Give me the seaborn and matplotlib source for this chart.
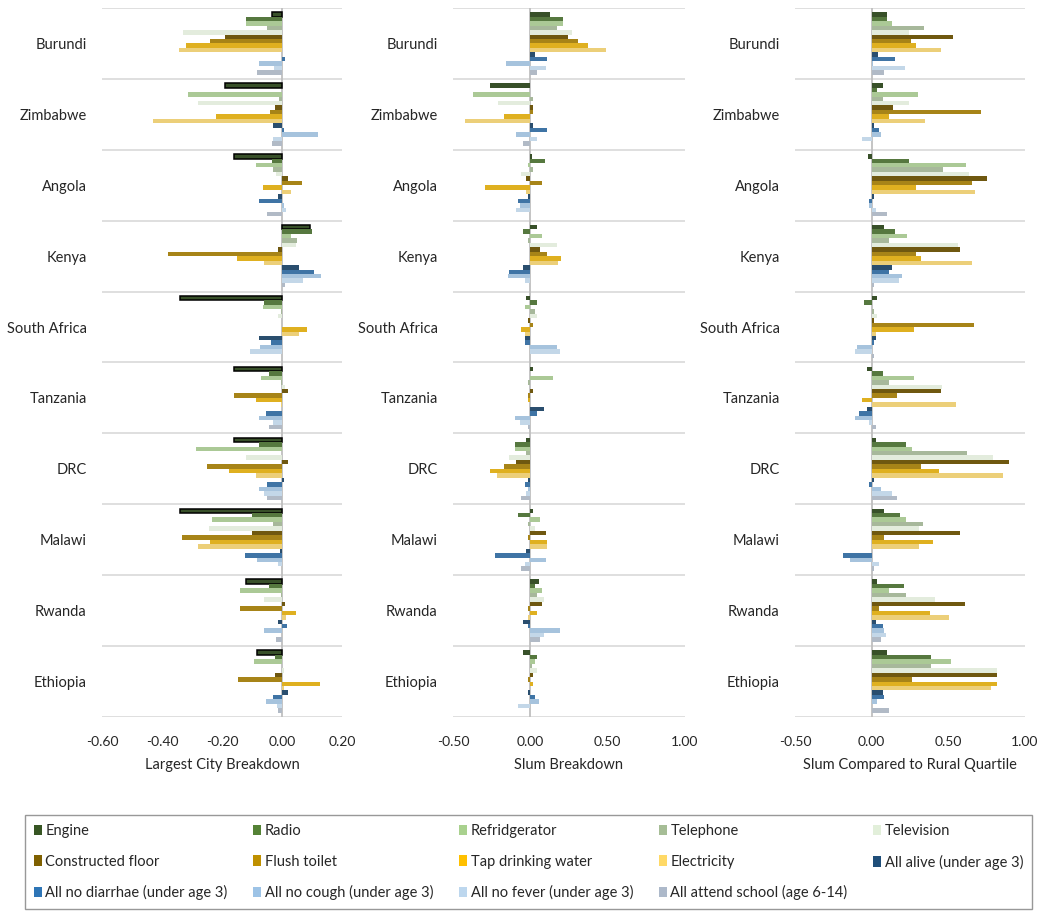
import numpy as np
import pandas as pd
import matplotlib
matplotlib.use("Agg")
import matplotlib.pyplot as plt
from matplotlib.patches import Patch
import seaborn as sns

countries = ["Burundi", "Zimbabwe", "Angola", "Kenya", "South Africa",
             "Tanzania", "DRC", "Malawi", "Rwanda", "Ethiopia"]

indicators = ["Engine", "Radio", "Refridgerator", "Telephone", "Television",
              "Constructed floor", "Flush toilet", "Tap drinking water", "Electricity",
              "All alive (under age 3)", "All no diarrhae (under age 3)",
              "All no cough (under age 3)", "All no fever (under age 3)",
              "All attend school (age 6-14)"]

colors = ["#375623", "#548235", "#A9D18E", "#A6BD96", "#E2EFDA",
          "#7F6000", "#BF9000", "#FFC000", "#FFD966",
          "#1F4E79", "#2E75B6", "#9DC3E6", "#BDD7EE", "#ADB9CA"]

# One row per country, one value per indicator (same order as `indicators`)
largest_city = [
    [-0.035, -0.12, -0.12, -0.05, -0.33, -0.19, -0.24, -0.32, -0.345, 0.0, 0.01, -0.077, -0.027, -0.085],
    [-0.19, 0.0, -0.315, -0.01, -0.28, -0.025, -0.04, -0.22, -0.43, -0.03, 0.005, 0.12, -0.03, -0.035],
    [-0.16, -0.035, -0.088, -0.03, -0.02, 0.02, 0.067, -0.065, 0.03, -0.012, -0.077, 0.005, 0.013, -0.05],
    [0.093, 0.1, 0.03, 0.05, 0.045, -0.012, -0.38, -0.15, -0.06, 0.055, 0.107, 0.13, 0.07, 0.01],
    [-0.34, -0.06, -0.065, -0.005, -0.015, 0.0, 0.0, 0.083, 0.058, -0.078, -0.037, -0.072, -0.108, 0.0],
    [-0.16, -0.043, -0.07, -0.005, 0.01, 0.02, -0.16, -0.088, -0.005, 0.0, -0.054, -0.077, -0.03, -0.043],
    [-0.16, -0.077, -0.287, 0.0, -0.12, 0.02, -0.25, -0.177, -0.088, 0.007, -0.05, -0.077, -0.06, -0.05],
    [-0.34, -0.1, -0.235, -0.03, -0.245, -0.1, -0.335, -0.24, -0.28, -0.008, -0.123, -0.083, -0.013, 0.0],
    [-0.12, -0.042, -0.14, -0.005, -0.06, 0.01, -0.14, 0.045, 0.013, -0.012, 0.015, -0.06, 0.0, -0.02],
    [-0.082, -0.025, -0.093, 0.0, 0.005, -0.025, -0.147, 0.125, 0.005, 0.02, -0.03, -0.052, -0.018, -0.013],
]

slum = [
    [0.13, 0.21, 0.21, 0.17, 0.27, 0.245, 0.31, 0.37, 0.49, 0.03, 0.11, -0.16, 0.1, 0.04],
    [-0.26, 0.0, -0.37, 0.02, -0.21, 0.015, 0.015, -0.17, -0.42, 0.015, 0.11, -0.095, 0.04, -0.05],
    [0.01, 0.097, -0.017, 0.015, -0.058, -0.03, 0.075, -0.29, -0.026, -0.015, -0.08, -0.07, -0.095, 0.0],
    [0.043, -0.05, 0.075, -0.017, 0.17, 0.065, 0.11, 0.2, 0.177, -0.047, -0.138, -0.147, -0.037, 0.0],
    [-0.026, 0.043, -0.037, 0.03, 0.04, -0.017, 0.02, -0.06, -0.037, -0.037, -0.037, 0.17, 0.19, 0.0],
    [0.015, 0.0, 0.145, -0.017, 0.0, 0.015, -0.017, -0.017, 0.0, 0.088, 0.04, -0.1, -0.07, -0.017],
    [-0.026, -0.1, -0.1, -0.026, -0.14, -0.093, -0.17, -0.26, -0.215, -0.017, -0.037, -0.017, -0.026, -0.06],
    [0.015, -0.08, 0.065, -0.017, 0.03, 0.1, -0.017, 0.11, 0.11, -0.026, -0.23, 0.1, -0.037, -0.06],
    [0.054, 0.03, 0.075, 0.04, 0.086, 0.075, -0.017, 0.043, -0.015, -0.047, -0.017, 0.19, 0.086, 0.065],
    [-0.047, 0.04, 0.03, 0.01, 0.04, 0.015, -0.017, 0.015, 0.0, -0.017, 0.03, 0.054, -0.08, 0.0],
]

slum_vs_rural = [
    [0.1, 0.1, 0.13, 0.34, 0.245, 0.53, 0.255, 0.29, 0.45, 0.04, 0.153, 0.01, 0.22, 0.083],
    [0.072, 0.037, 0.3, 0.072, 0.245, 0.14, 0.71, 0.11, 0.345, 0.015, 0.048, 0.06, -0.065, 0.0],
    [-0.022, 0.245, 0.617, 0.467, 0.637, 0.754, 0.653, 0.287, 0.675, 0.015, -0.017, -0.017, 0.026, 0.1],
    [0.083, 0.153, 0.23, 0.11, 0.56, 0.573, 0.29, 0.32, 0.654, 0.13, 0.115, 0.2, 0.176, 0.015],
    [0.037, -0.048, 0.005, 0.015, 0.037, 0.015, 0.665, 0.277, 0.026, 0.026, 0.015, -0.094, -0.11, 0.015],
    [-0.028, 0.072, 0.277, 0.11, 0.457, 0.45, 0.163, -0.065, 0.55, -0.028, -0.083, -0.11, -0.017, 0.026],
    [0.026, 0.222, 0.266, 0.62, 0.79, 0.893, 0.32, 0.436, 0.856, 0.015, -0.017, 0.06, 0.13, 0.163],
    [0.083, 0.185, 0.222, 0.333, 0.31, 0.573, 0.083, 0.403, 0.31, 0.0, -0.19, -0.14, 0.048, 0.015],
    [0.037, 0.21, 0.11, 0.222, 0.414, 0.608, 0.048, 0.38, 0.505, 0.026, 0.072, 0.083, 0.094, 0.06],
    [0.1, 0.39, 0.516, 0.39, 0.82, 0.82, 0.266, 0.82, 0.78, 0.072, 0.083, 0.037, 0.0, 0.11],
]

panel_titles = ["Largest City Breakdown", "Slum Breakdown", "Slum Compared to Rural Quartile"]
x_ticks = [[-0.6, -0.4, -0.2, 0.0, 0.2], [-0.5, 0.0, 0.5, 1.0], [-0.5, 0.0, 0.5, 1.0]]
x_limits = [(-0.6, 0.2), (-0.5, 1.0), (-0.5, 1.0)]


def to_long(rows):
    records = []
    for country, vals in zip(countries, rows):
        for ind, v in zip(indicators, vals):
            records.append({"country": country, "indicator": ind, "value": v})
    return pd.DataFrame.from_records(records)


sns.set_theme(style="white")
plt.rcParams["font.family"] = ["Lato", "DejaVu Sans"]

fig = plt.figure(figsize=(10.48, 9.11), dpi=100)
W, H = 1048.0, 911.0
top_px, bottom_px = 8.0, 717.0
axes_px = [(102, 240), (453, 232), (795, 230)]

for k, (rows, title) in enumerate(zip([largest_city, slum, slum_vs_rural], panel_titles)):
    left, width = axes_px[k]
    ax = fig.add_axes([left / W, 1 - bottom_px / H, width / W, (bottom_px - top_px) / H])
    df = to_long(rows)
    sns.barplot(data=df, x="value", y="country", hue="indicator",
                order=countries, hue_order=indicators, palette=colors,
                orient="h", width=0.88, linewidth=0, errorbar=None,
                legend=False, ax=ax, zorder=2)
    if k == 0:
        for bar in ax.containers[0]:
            bar.set_edgecolor("black")
            bar.set_linewidth(1.1)

    ax.set_xlim(*x_limits[k])
    ax.set_ylim(9.5, -0.5)
    ax.axvline(0, color="#BFBFBF", lw=1.3, zorder=1)
    ax.set_yticks(np.arange(-0.5, 10, 1), minor=True)
    ax.grid(axis="y", which="minor", color="#D9D9D9", lw=1.2)
    ax.grid(axis="x", visible=False)
    ax.grid(axis="y", which="major", visible=False)
    for s in ax.spines.values():
        s.set_visible(False)
    ax.set_xticks(x_ticks[k])
    ax.set_xticklabels([f"{t:.2f}" for t in x_ticks[k]], fontsize=10)
    ax.tick_params(axis="both", which="both", length=0)
    ax.tick_params(axis="x", pad=14)
    ax.tick_params(axis="y", pad=11, labelsize=10.5)
    ax.set_ylabel("")
    ax.set_xlabel(title, fontsize=10.5, labelpad=7)

# Legend: fill row by row across five columns
handles = [Patch(facecolor=c, edgecolor="none") for c in colors]
ncol, nrow = 5, 3
order = [r * ncol + c for c in range(ncol) for r in range(nrow) if r * ncol + c < len(indicators)]
leg = fig.legend([handles[i] for i in order], [indicators[i] for i in order],
                 loc="upper left", bbox_to_anchor=(25 / W, 1 - 815 / H, 1007 / W, 0.0),
                 mode="expand", ncol=ncol, frameon=True, fancybox=False,
                 edgecolor="#7F7F7F", borderaxespad=0, borderpad=0.6,
                 handlelength=0.55, handleheight=0.7, handletextpad=0.25,
                 labelspacing=1.15, prop={"size": 10.5})
leg.get_frame().set_linewidth(1.0)

fig.savefig("out.png", dpi=100)
